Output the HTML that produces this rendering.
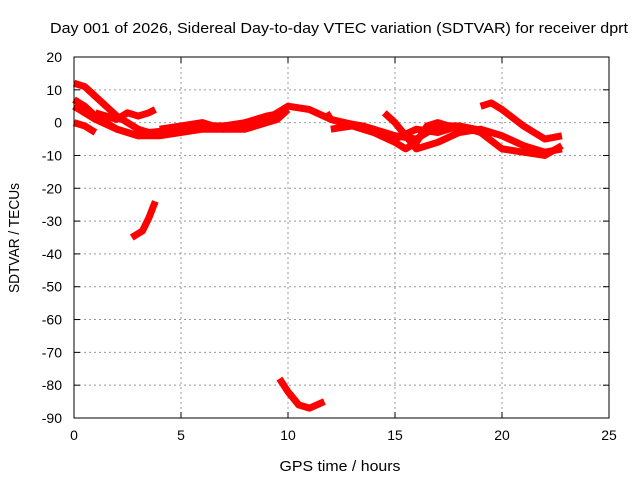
<!DOCTYPE html>
<html><head><meta charset="utf-8"><style>
body{margin:0;background:#fff}
svg{display:block;font-family:"Liberation Sans",sans-serif}
</style></head><body>
<svg id="chart" width="640" height="480" viewBox="0 0 640 480">
<rect width="640" height="480" fill="#fff"/>
<text x="339" y="33" font-size="15" text-anchor="middle" textLength="578" lengthAdjust="spacingAndGlyphs">Day 001 of 2026, Sidereal Day-to-day VTEC variation (SDTVAR) for receiver dprt</text>
<text x="340" y="471" font-size="15" text-anchor="middle" textLength="121" lengthAdjust="spacingAndGlyphs">GPS time / hours</text>
<text transform="translate(19,238) rotate(-90)" font-size="15" text-anchor="middle" textLength="110" lengthAdjust="spacingAndGlyphs">SDTVAR / TECUs</text>
<g id="grid"></g><g id="ticks"></g><g id="series"></g>
<rect x="74" y="57" width="535" height="361" fill="none" stroke="#000" stroke-width="1"/>
</svg>
<script>
const xTicks=[0,5,10,15,20,25];
const yTicks=[20,10,0,-10,-20,-30,-40,-50,-60,-70,-80,-90];
const trackA=[[0,12],[0.5,11],[1,8],[1.5,5],[2,2],[2.5,0],[3,-2],[3.5,-3],[5,-2],[7,-1],[9,1],[10,5],[11,4],[12,1],[14,-2],[15,-5],[16,-2],[17,-3],[18,-1],[19,-3],[20,-8],[21,-9],[22,-10],[22.8,-7]];
const trackB=[[0,7],[0.5,5],[1,2],[1.5,0],[2,-2],[2.5,-3],[3,-4],[4,-4],[6,-2],[8,-2],[9.5,1],[10,4]];
const trackC=[[0,0],[0.5,-1],[1,-3]];
const trackD=[[1,3],[1.5,2],[2,1],[2.5,3],[3,2],[3.5,3],[3.8,4]];
const trackE=[[0,5],[1,1],[2,-2],[3,-4],[4,-3],[6,-1],[8,-1],[9.5,2]];
const trackF=[[19,5],[19.5,6],[20,4],[21,-1],[22,-5],[22.8,-4]];
const trackG=[[14.5,3],[15,0],[15.5,-4],[16,-8],[17,-6],[18,-3],[19,-2],[20,-4],[21,-7],[22,-9],[22.8,-8]];
const trackH=[[12,-2],[13,-1],[14,-3],[15,-6],[15.5,-8],[16,-6],[16.5,-1],[17,0],[18,-2]];
const trackI=[[2.7,-35],[3.2,-33],[3.5,-29],[3.8,-24]];
const trackJ=[[9.6,-78],[10,-82],[10.5,-86],[11,-87],[11.7,-85]];
const trackK=[[4,-2],[5,-1],[6,0],[7,-2],[8,0],[9,2],[9.8,3]];
const trackL=[[11.8,3],[12,1],[12.5,0],[13.5,-1],[15,-4],[16,-5],[17,-1],[18,-1],[19.5,-3]];
const tracks=[trackA,trackB,trackC,trackD,trackE,trackF,trackG,trackH,trackI,trackJ,trackK,trackL];
const X0=74,X1=609,Y0=57,Y1=418;
const xs=t=>X0+(t-0)/(25-0)*(X1-X0);
const ys=v=>Y0+(20-v)/(20-(-90))*(Y1-Y0);
const NS='http://www.w3.org/2000/svg';
const g=document.getElementById('grid'),tk=document.getElementById('ticks'),se=document.getElementById('series');
function mk(tag,at,parent){const e=document.createElementNS(NS,tag);for(const k in at)e.setAttribute(k,at[k]);parent.appendChild(e);return e;}
xTicks.forEach(t=>{const x=xs(t);
 if(t>0&&t<25){const l=mk('line',{x1:x,x2:x,y1:Y0,y2:Y1,stroke:'#999','stroke-dasharray':'2,3'},g);
 
 }
 const tx=mk('text',{x:x,y:Y1+22,'font-size':14,'text-anchor':'middle'},tk);tx.textContent=t;
 
 
 mk('line',{x1:x,x2:x,y1:Y1,y2:Y1-6,stroke:'#000'},tk);mk('line',{x1:x,x2:x,y1:Y0,y2:Y0+6,stroke:'#000'},tk);
});
yTicks.forEach(v=>{const y=ys(v);
 if(v<20&&v>-90){const l=mk('line',{x1:X0,x2:X1,y1:y,y2:y,stroke:'#999','stroke-dasharray':'2,3'},g);
 
 }
 const tx=mk('text',{x:X0-12,y:y+5,'font-size':14,'text-anchor':'end'},tk);tx.textContent=v;
 
 
 mk('line',{x1:X0,x2:X0+6,y1:y,y2:y,stroke:'#000'},tk);mk('line',{x1:X1,x2:X1-6,y1:y,y2:y,stroke:'#000'},tk);
});
tracks.forEach((tr,i)=>{const p=mk('polyline',{points:tr.map(d=>xs(d[0])+','+ys(d[1])).join(' '),fill:'none',stroke:'#f00','stroke-width':7,'stroke-linejoin':'round','stroke-linecap':'butt'},se);
 
 
});
</script>
</body></html>
